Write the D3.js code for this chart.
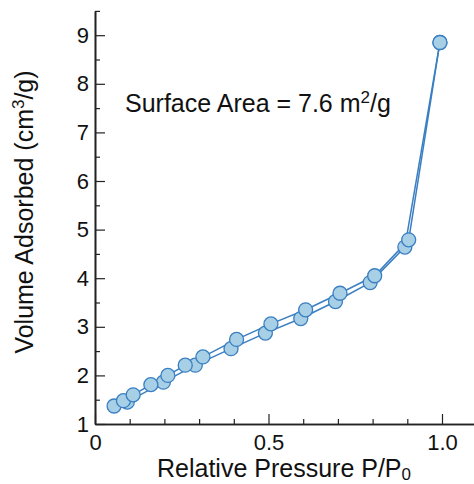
<!DOCTYPE html>
<html>
<head>
<meta charset="utf-8">
<script src="https://cdn.jsdelivr.net/npm/d3@7/dist/d3.min.js"></script>
<style>
  html, body { margin: 0; padding: 0; background: #fff; }
  svg { display: block; font-family: "Liberation Sans", Arial, Helvetica, sans-serif; }
</style>
</head>
<body>
<svg id="chart" width="474" height="484"></svg>
<script>
// Adsorption branch (lower)
const adsX = [0.055, 0.093, 0.197, 0.289, 0.392, 0.491, 0.593, 0.693, 0.793, 0.893, 0.994];
const adsY = [1.37, 1.45, 1.86, 2.21, 2.55, 2.87, 3.17, 3.52, 3.91, 4.64, 8.85];
// Desorption branch (upper)
const desX = [0.082, 0.110, 0.161, 0.210, 0.260, 0.311, 0.408, 0.507, 0.607, 0.706, 0.806, 0.904, 0.994];
const desY = [1.48, 1.60, 1.81, 2.00, 2.21, 2.38, 2.74, 3.06, 3.35, 3.69, 4.05, 4.79, 8.85];

const xMajorTicks = [0, 0.5, 1.0];
const xMajorLabels = ["0", "0.5", "1.0"];
const xMinorTicks = [0.1, 0.2, 0.3, 0.4, 0.6, 0.7, 0.8, 0.9];
const yMajorTicks = [1, 2, 3, 4, 5, 6, 7, 8, 9];
const yMinorTicks = [1.5, 2.5, 3.5, 4.5, 5.5, 6.5, 7.5, 8.5, 9.5];

const svg = d3.select("#chart");
const left = 95, bottom = 424;
const x = d3.scaleLinear().domain([0, 1.1]).range([left, left + 1.1 * 347]);
const y = d3.scaleLinear().domain([1, 9.5]).range([bottom, bottom - 8.5 * 48.6]);

const lineColor = "#3a7fc1";
const fillColor = "#a7cfe5";
const tickFont = 22;
const labelFont = 25;

// Axes
const xAxisMajor = d3.axisBottom(x).tickValues(xMajorTicks).tickFormat((d, i) => xMajorLabels[i]).tickSizeInner(-10).tickSizeOuter(0).tickPadding(10);
const xAxisMinor = d3.axisBottom(x).tickValues(xMinorTicks).tickFormat("").tickSizeInner(-5).tickSizeOuter(0);
const yAxisMajor = d3.axisLeft(y).tickValues(yMajorTicks).tickFormat(d3.format("d")).tickSizeInner(-10).tickSizeOuter(0).tickPadding(6);
const yAxisMinor = d3.axisLeft(y).tickValues(yMinorTicks).tickFormat("").tickSizeInner(-5).tickSizeOuter(0);

function styleAxis(g) {
  g.select(".domain").attr("stroke", "#222").attr("stroke-width", 1.6);
  g.selectAll(".tick line").attr("stroke", "#222").attr("stroke-width", 1.2);
  g.selectAll(".tick text").attr("fill", "#111").style("font-size", tickFont + "px").style("font-family", "'Liberation Sans', Arial, sans-serif");
}

svg.append("g").attr("transform", `translate(0,${bottom})`).call(xAxisMinor).call(styleAxis);
svg.append("g").attr("transform", `translate(0,${bottom})`).call(xAxisMajor).call(styleAxis);
svg.append("g").attr("transform", `translate(${left},0)`).call(yAxisMinor).call(styleAxis);
svg.append("g").attr("transform", `translate(${left},0)`).call(yAxisMajor).call(styleAxis);

// Labels
svg.append("text")
  .attr("x", 284).attr("y", 477)
  .attr("text-anchor", "middle")
  .style("font-size", labelFont + "px").attr("fill", "#111")
  .call(t => {
    t.append("tspan").text("Relative Pressure P/P");
    t.append("tspan").attr("dy", 3).style("font-size", "17px").text("0");
  });

svg.append("text")
  .attr("transform", "translate(33,212) rotate(-90)")
  .attr("text-anchor", "middle")
  .style("font-size", labelFont + "px").attr("fill", "#111")
  .call(t => {
    t.append("tspan").text("Volume Adsorbed (cm");
    t.append("tspan").attr("dy", -9).style("font-size", "17px").text("3");
    t.append("tspan").attr("dy", 9).text("/g)");
  });

svg.append("text")
  .attr("x", 125).attr("y", 112)
  .style("font-size", labelFont + "px").attr("fill", "#111")
  .call(t => {
    t.append("tspan").text("Surface Area = 7.6 m");
    t.append("tspan").attr("dy", -9).style("font-size", "17px").text("2");
    t.append("tspan").attr("dy", 9).text("/g");
  });

// Lines
const line = d3.line().x(d => x(d[0])).y(d => y(d[1]));
const ads = adsX.map((v, i) => [v, adsY[i]]);
const des = desX.map((v, i) => [v, desY[i]]);

[ads, des].forEach(series => {
  svg.append("path").datum(series)
    .attr("d", line)
    .attr("fill", "none").attr("stroke", lineColor).attr("stroke-width", 1.5);
});

[ads, des].forEach(series => {
  svg.append("g").selectAll("circle").data(series).join("circle")
    .attr("cx", d => x(d[0])).attr("cy", d => y(d[1])).attr("r", 7)
    .attr("fill", fillColor).attr("stroke", lineColor).attr("stroke-width", 1.3);
});
</script>
</body>
</html>
